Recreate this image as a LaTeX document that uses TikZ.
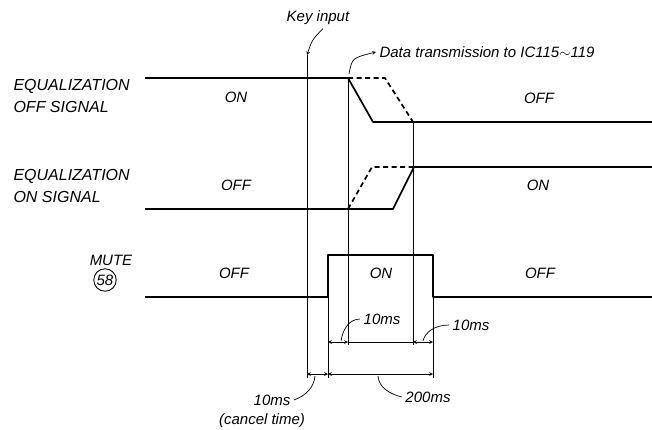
\documentclass[tikz,border=0pt]{standalone}
\usepackage{fontspec}
\setmainfont{Liberation Sans}

\begin{document}
\begin{tikzpicture}[>=stealth, x=1pt, y=-1pt, font=\fontsize{15}{18}\selectfont\itshape,
		sig/.style={line width=1.7pt, line join=round},
		sigdash/.style={sig, dash pattern=on 5pt off 3.5pt},
		thinline/.style={line width=0.7pt},
		dim/.style={thinline, <->},
		lbl/.style={align=left, anchor=west, font=\fontsize{16}{22}\selectfont\itshape}]
	\useasboundingbox (0,0) rectangle (652,429);

	% signal corners
	\coordinate (offA) at (145,78);  \coordinate (offB) at (348,78);
	\coordinate (offC) at (373,122); \coordinate (offD) at (652,122);
	\coordinate (offE) at (385,78);  \coordinate (offF) at (413,122);
	\coordinate (onA) at (145,209);  \coordinate (onB) at (393,209);
	\coordinate (onC) at (414,167);  \coordinate (onD) at (652,167);
	\coordinate (onE) at (348,209);  \coordinate (onF) at (372,167);
	\coordinate (mA) at (145,297); \coordinate (mB) at (328,297);
	\coordinate (mC) at (328,255); \coordinate (mD) at (433,255);
	\coordinate (mE) at (433,297); \coordinate (mF) at (652,297);
	\coordinate (keyT) at (307,55);

	% signals
	\draw[sig] (offA) -- (offB) -- (offC) -- (offD);
	\draw[sigdash] (offB) -- (offE) -- (offF);
	\draw[sig] (onA) -- (onB) -- (onC) -- (onD);
	\draw[sigdash] (onE) -- (onF) -- (onC);
	\draw[sig] (mA) -- (mB) -- (mC) -- (mD) -- (mE) -- (mF);

	% timing marks
	\draw[thinline] (keyT) -- (307,378);
	\draw[thinline] (offB) -- (348,345);
	\draw[thinline] (offF) -- (413,345);
	\draw[thinline] (mB) -- (328,378);
	\draw[thinline] (mE) -- (433,378);

	% dimensions
	\draw[dim] (328,342) -- (348,342);
	\draw[thinline] (348,342) -- (413,342);
	\draw[dim] (413,342) -- (433,342);
	\draw[dim] (307,374) -- (328,374);
	\draw[dim] (328,374) -- (433,374);

	% labels
	\node[lbl] (eqoff) at (10,96) {EQUALIZATION\\OFF SIGNAL};
	\node[lbl] (eqon) at (10,186) {EQUALIZATION\\ON SIGNAL};
	\node (mute) at (111,260) {MUTE};
	\node[circle, draw, line width=0.9pt, inner sep=1pt] (pin) at (105,280) {58};
	\foreach \t/\x/\y [count=\i] in {ON/236/97, OFF/539/98, OFF/236/185, ON/538/185, OFF/234/273, ON/381/273, OFF/540/273}
		\node (st\i) at (\x,\y) {\t};

	\node (key) at (318,18) {Key input};
	\draw[thinline, ->] ([xshift=5pt]key.south) .. controls (312,40) .. (keyT);
	\node[anchor=west] (tx) at (376,52) {Data transmission to IC115$\sim$119};
	\draw[thinline, ->] (349,74) .. controls (352,58) .. (tx.west);

	\node (ms1) at (382,319) {10ms};
	\node (ms2) at (471,325) {10ms};
	\node (ms3) at (272,400) {10ms};
	\node (cancel) at (262,421) {(cancel time)};
	\node (ms4) at (428,397) {200ms};
	\draw[thinline] (ms1.west) .. controls (350,319) and (343,328) .. (341,341);
	\draw[thinline] (ms2.west) .. controls (435,325) and (425,332) .. (423,341);
	\draw[thinline] (ms3.east) .. controls (305,396) and (314,388) .. (315,376);
	\draw[thinline] (ms4.west) .. controls (390,394) and (379,388) .. (378,376);
\end{tikzpicture}
\end{document}
